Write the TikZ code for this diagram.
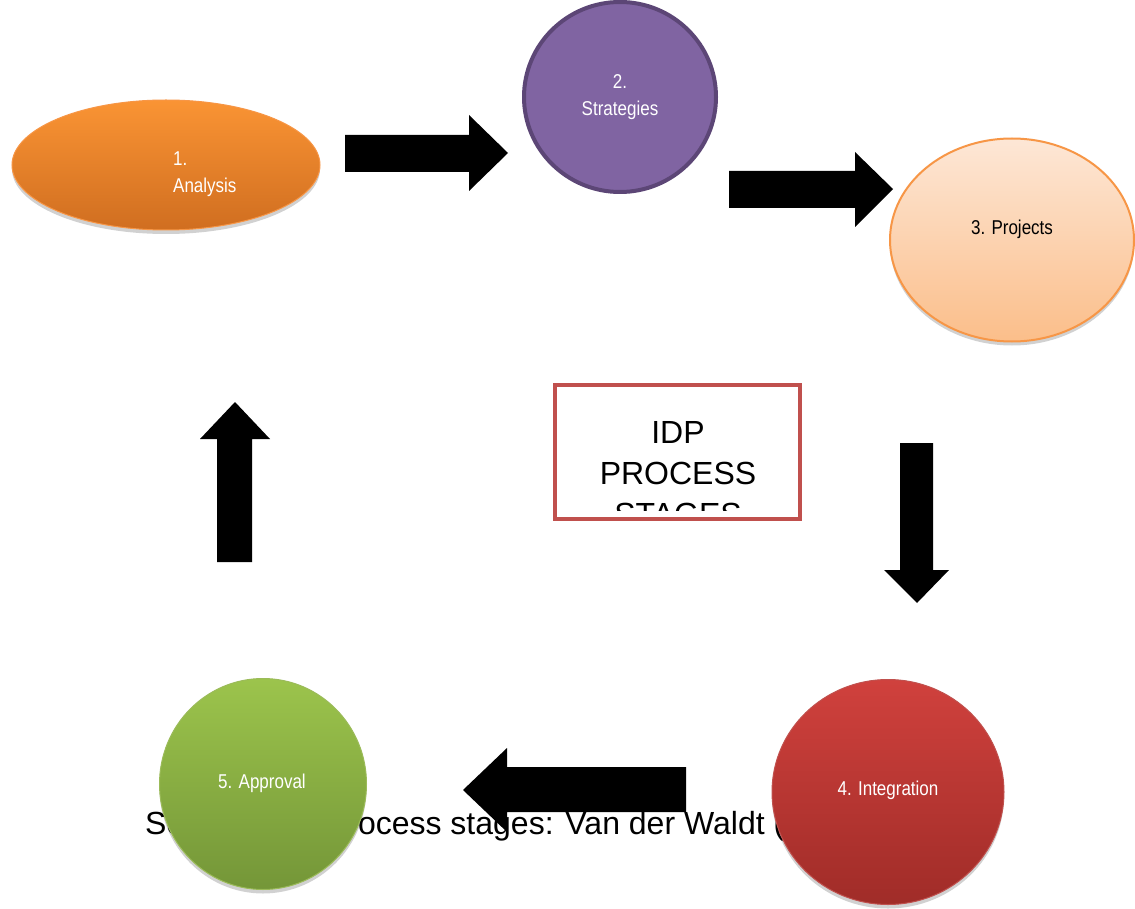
\documentclass[tikz,border=0pt]{standalone}
\usepackage{fontspec}
\setmainfont{Liberation Sans}
\newfontfamily\narrowsans[FakeStretch=0.85]{Liberation Sans}
\usetikzlibrary{shapes.geometric,shadows}

\definecolor{orangeTop}{RGB}{250,148,52}
\definecolor{orangeBot}{RGB}{208,110,32}
\definecolor{orangeEdge}{RGB}{247,150,70}
\definecolor{purpleFill}{RGB}{128,100,162}
\definecolor{purpleEdge}{RGB}{92,70,118}
\definecolor{peachTop}{RGB}{253,231,214}
\definecolor{peachBot}{RGB}{251,190,138}
\definecolor{redTop}{RGB}{208,65,61}
\definecolor{redBot}{RGB}{160,44,40}
\definecolor{redEdge}{RGB}{192,80,77}
\definecolor{greenTop}{RGB}{156,196,76}
\definecolor{greenBot}{RGB}{116,150,56}
\definecolor{greenEdge}{RGB}{155,187,89}

\begin{document}
\begin{tikzpicture}[x=1pt,y=-1pt,
  stage/.style={ellipse, inner sep=0pt},
  softshadow/.style={drop shadow={shadow xshift=0pt, shadow yshift=-4pt, opacity=0.18, fill=black}},
  stagelabel/.style={font=\narrowsans\fontsize{20}{27}\selectfont, inner sep=0pt},
  blockarrow/.style={fill=black},
  bigtext/.style={font=\fontsize{32}{41}\selectfont, inner sep=0pt},
]
\useasboundingbox[fill=white] (0,0) rectangle (1135,909);

% source line, partly covered by the stage shapes
\node[bigtext, anchor=base west] (source) at (145,834)
  {Source: IDP process stages: Van der Waldt (2007)};

% stages
\node[stage, softshadow, draw=orangeEdge, line width=1pt, top color=orangeTop, bottom color=orangeBot,
      minimum width=308pt, minimum height=130pt] (analysis) at (166,165) {};
\node[stage, draw=purpleEdge, line width=4pt, fill=purpleFill,
      minimum width=192pt, minimum height=190pt] (strategies) at (620,97) {};
\node[stage, softshadow, draw=orangeEdge, line width=2pt, top color=peachTop, bottom color=peachBot,
      minimum width=244pt, minimum height=203pt] (projects) at (1012,240) {};
\node[stage, softshadow, draw=redEdge, line width=1pt, top color=redTop, bottom color=redBot,
      minimum width=232pt, minimum height=225pt] (integration) at (888,792) {};
\node[stage, softshadow, draw=greenEdge, line width=1pt, top color=greenTop, bottom color=greenBot,
      minimum width=207pt, minimum height=211pt] (approval) at (263,784) {};

% stage labels
\node[stagelabel, text=white, align=left, anchor=west] (analysistext) at (173,174) {1.\\Analysis};
\node[stagelabel, text=white, align=center] (strategiestext) at (620,97) {2.\\Strategies};
\node[stagelabel, anchor=base] (projectstext) at (1012,235) {3. Projects};
\node[stagelabel, text=white, anchor=base] (integrationtext) at (888,795) {4. Integration};
\node[stagelabel, text=white, anchor=base] (approvaltext) at (262,788) {5. Approval};

% title box with text cut off at its lower margin
\node[draw=redEdge, line width=4pt, fill=white, minimum width=245pt, minimum height=134pt,
      inner sep=0pt] (idpbox) at (677.5,452) {};
\begin{scope}
  \clip (559,389) rectangle (796,510);
  \node[bigtext, align=center] (idptext) at (678,474) {IDP\\PROCESS\\STAGES};
\end{scope}

% block arrows between the stages
\fill[blockarrow] (345,135) -- (469,135) -- (469,115) -- (508,153) -- (469,191) -- (469,172) -- (345,172) -- cycle;
\fill[blockarrow] (729,171) -- (855,171) -- (855,152) -- (893,189) -- (855,227) -- (855,208) -- (729,208) -- cycle;
\fill[blockarrow] (900,443) -- (933,443) -- (933,570) -- (949,570) -- (917,603) -- (884,570) -- (900,570) -- cycle;
\fill[blockarrow] (686,767) -- (507,767) -- (507,748) -- (463,790) -- (507,832) -- (507,812) -- (686,812) -- cycle;
\fill[blockarrow] (217,562) -- (217,439) -- (200,439) -- (235,402) -- (270,439) -- (252,439) -- (252,562) -- cycle;
\end{tikzpicture}
\end{document}
